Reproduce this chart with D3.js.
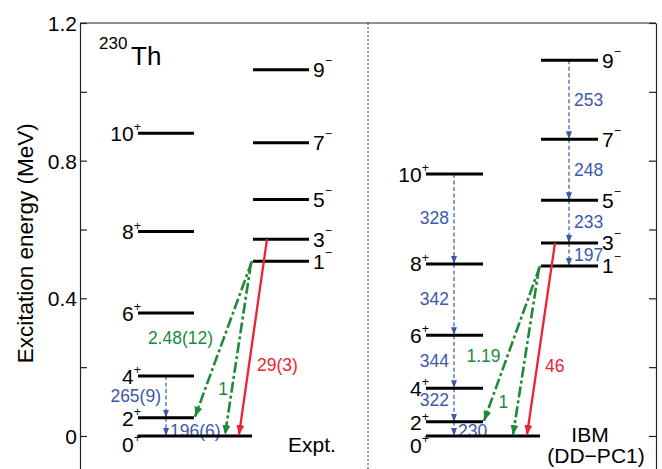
<!DOCTYPE html>
<html>
<head>
<meta charset="utf-8">
<script src="https://cdn.jsdelivr.net/npm/d3@7"></script>
<style>
  body { margin: 0; background: #fff; }
  text { font-family: "Liberation Sans", Arial, Helvetica, sans-serif; }
</style>
</head>
<body>
<svg id="chart" width="662" height="469"></svg>
<script>
// Level energies (MeV), 230Th
const gsbSpins = ["0", "2", "4", "6", "8", "10"];
const negSpins = ["1", "3", "5", "7", "9"];
const exptGsbE = [0, 0.053, 0.174, 0.357, 0.594, 0.880];
const exptNegE = [0.508, 0.572, 0.687, 0.852, 1.064];
const ibmGsbE = [0, 0.041, 0.139, 0.293, 0.500, 0.761];
const ibmNegE = [0.494, 0.561, 0.685, 0.862, 1.092];

// B(E2) labels (W.u.), entry i = transition from level i+1 down to level i
const exptGsbBE2 = ["196(6)", "265(9)"];
const ibmGsbBE2 = ["230", "322", "344", "342", "328"];
const ibmNegBE2 = ["197", "233", "248", "253"];

// E1 ratios (1- -> 2+, 1- -> 0+) and E3 (3- -> 0+)
const exptE1 = ["2.48(12)", "1"];
const exptE3 = "29(3)";
const ibmE1 = ["1.19", "1"];
const ibmE3 = "46";

// axis
const yTicks = [-0.2, 0, 0.2, 0.4, 0.6, 0.8, 1.0, 1.2];
const yTickLabels = ["", "0", "", "0.4", "", "0.8", "", "1.2"];

const svg = d3.select("#chart");
const plotLeft = 80, plotRight = 656, plotTop = 23;

const y = d3.scaleLinear().domain([-0.1, 1.2]).range([470.4, plotTop]);

const BLUE = "#3b58aa", GREEN = "#1c8a3a", RED = "#ec2330";

// arrow heads
const defs = svg.append("defs");
[["blue", BLUE, 8, 6], ["green", GREEN, 10, 8], ["red", RED, 10, 8]].forEach(([id, c, len, w]) => {
  defs.append("marker")
    .attr("id", "arr-" + id)
    .attr("markerUnits", "userSpaceOnUse")
    .attr("viewBox", `0 ${-w / 2} ${len} ${w}`)
    .attr("refX", len).attr("refY", 0)
    .attr("markerWidth", len).attr("markerHeight", w)
    .attr("orient", "auto")
    .append("path")
    .attr("d", `M0,${-w / 2}L${len},0L0,${w / 2}Z`)
    .attr("fill", c);
});

// frame and axes
svg.append("line")
  .attr("x1", plotLeft).attr("x2", plotRight).attr("y1", plotTop).attr("y2", plotTop)
  .attr("stroke", "#222").attr("stroke-width", 1.2);

const axL = svg.append("g")
  .attr("transform", `translate(${plotLeft},0)`)
  .call(d3.axisLeft(y).tickValues(yTicks).tickSizeInner(-7).tickSizeOuter(0).tickPadding(3)
    .tickFormat((d, i) => yTickLabels[i]));
const axR = svg.append("g")
  .attr("transform", `translate(${plotRight},0)`)
  .call(d3.axisRight(y).tickValues(yTicks).tickSizeInner(-7).tickSizeOuter(0).tickFormat(""));
[axL, axR].forEach(a => {
  a.selectAll("path, line").attr("stroke", "#222").attr("stroke-width", 1.2);
});
axL.selectAll("text").style("font-size", "21px").attr("fill", "#000").attr("dy", "0.36em");

svg.append("text")
  .attr("transform", `translate(33,${(y(0.215) + y(0.905)) / 2}) rotate(-90)`)
  .attr("text-anchor", "middle")
  .style("font-size", "22.5px")
  .text("Excitation energy (MeV)");

// separator between panels
svg.append("line")
  .attr("x1", 368).attr("x2", 368).attr("y1", plotTop).attr("y2", 469)
  .attr("stroke", "#333").attr("stroke-width", 1).attr("stroke-dasharray", "2,2");

// nucleus label
svg.append("text").attr("x", 99).attr("y", 49).style("font-size", "17px").text("230");
svg.append("text").attr("x", 131).attr("y", 65).style("font-size", "26px").text("Th");

// panel layout; gsbDy = baseline offset of each ground-band spin label
const panels = [
  { gsbE: exptGsbE, negE: exptNegE, gsbBE2: exptGsbBE2, negBE2: [], e1: exptE1, e3: exptE3,
    gx: [138, 194], zeroEnd: 252, nx: [253, 309], bx: 166, nbx: null,
    gsbDy: [16, 8, 7.5, 7.5, 7.5, 7.5], lift: 1,
    e1t: [0.49, 0.73], e1dx: [11, 4] },
  { gsbE: ibmGsbE, negE: ibmNegE, gsbBE2: ibmGsbBE2, negBE2: ibmNegBE2, e1: ibmE1, e3: ibmE3,
    gx: [426, 483], zeroEnd: 540, nx: [541, 598], bx: 454, nbx: 569,
    gsbDy: [17, 8.5, 7.5, 7.5, 7.5, 7.5], lift: 5,
    e1t: [0.58, 0.80], e1dx: [7, 10] }
];

function spinLabel(g, x, yb, spin, sign, anchor) {
  const t = g.append("text").attr("x", x).attr("y", yb)
    .attr("text-anchor", anchor).style("font-size", "21px");
  t.append("tspan").text(spin);
  t.append("tspan").attr("dy", sign === "+" ? -9.5 : -12).style("font-size", "12.5px").text(sign === "+" ? "+" : "\u2212");
}

function arrow(g, x1, y1, x2, y2, color, id, width, dash) {
  g.append("line")
    .attr("x1", x1).attr("y1", y1).attr("x2", x2).attr("y2", y2)
    .attr("stroke", color).attr("stroke-width", width)
    .attr("stroke-dasharray", dash)
    .attr("marker-end", `url(#arr-${id})`);
}

function label(g, x, yc, txt, color, anchor, size) {
  g.append("text").attr("x", x).attr("y", yc + 0.36 * size)
    .attr("text-anchor", anchor).attr("fill", color)
    .style("font-size", size + "px").text(txt);
}

panels.forEach(p => {
  const g = svg.append("g");

  // blue B(E2) arrows, ground band
  p.gsbBE2.forEach((txt, i) => {
    const y0 = y(p.gsbE[i + 1]), y1 = y(p.gsbE[i]);
    arrow(g, p.bx, y0, p.bx, y1, BLUE, "blue", 1.2, "4,2.5");
    if (i === 0) {
      g.append("text").attr("x", p.bx + 4).attr("y", y1 + 1)
        .attr("fill", BLUE).style("font-size", "17.5px").text(txt);
    } else {
      label(g, p.bx - 5, (y0 + y1) / 2 - (i === 1 ? p.lift : 1), txt, BLUE, "end", 17.5);
    }
  });
  // blue B(E2) arrows, negative-parity band
  p.negBE2.forEach((txt, i) => {
    const y0 = y(p.negE[i + 1]), y1 = y(p.negE[i]);
    arrow(g, p.nbx, y0, p.nbx, y1, BLUE, "blue", 1.2, "4,2.5");
    label(g, p.nbx + 5, (y0 + y1) / 2, txt, BLUE, "start", 17.5);
  });

  // levels
  g.selectAll(".gsb").data(p.gsbE).join("line")
    .attr("x1", p.gx[0]).attr("x2", (d, i) => i === 0 ? p.zeroEnd : p.gx[1])
    .attr("y1", d => y(d)).attr("y2", d => y(d))
    .attr("stroke", "#000").attr("stroke-width", 3);
  g.selectAll(".neg").data(p.negE).join("line")
    .attr("x1", p.nx[0]).attr("x2", p.nx[1])
    .attr("y1", d => y(d)).attr("y2", d => y(d))
    .attr("stroke", "#000").attr("stroke-width", 3);

  p.gsbE.forEach((e, i) => {
    spinLabel(g, p.gx[0] + 3, y(e) + p.gsbDy[i], gsbSpins[i], "+", "end");
  });
  p.negE.forEach((e, i) => {
    spinLabel(g, p.nx[1] + 4, y(e) + 7.5, negSpins[i], "-", "start");
  });

  // E1 arrows (dash-dot green) and E3 arrow (red)
  const yN = y(p.negE[0]), yZ = y(0);
  const a = [p.nx[0] - 1, yN, p.gx[1] + 1, y(p.gsbE[1]) - 1];
  const b = [p.nx[0] - 2, yN + 2, p.nx[0] - 28, yZ - 1];
  const r = [p.nx[0] + 14, y(p.negE[1]), p.nx[0] - 14, yZ - 1];
  arrow(g, ...a, GREEN, "green", 2.6, "11,3,3,3");
  arrow(g, ...b, GREEN, "green", 2.6, "11,3,3,3");
  arrow(g, ...r, RED, "red", 2.3, null);

  [a, b].forEach((s, k) => {
    const t = p.e1t[k];
    const px = s[0] + (s[2] - s[0]) * t, py = s[1] + (s[3] - s[1]) * t;
    label(g, px - p.e1dx[k], py, p.e1[k], GREEN, "end", 17.5);
  });
  const tr = 0.64;
  label(g, r[0] + (r[2] - r[0]) * tr + 8, r[1] + (r[3] - r[1]) * tr, p.e3, RED, "start", 17.5);
});

// panel names
svg.append("text").attr("x", 288).attr("y", 452).style("font-size", "21px").text("Expt.");
svg.append("text").attr("x", 590).attr("y", 442).attr("text-anchor", "middle").style("font-size", "21px").text("IBM");
svg.append("text").attr("x", 596).attr("y", 463).attr("text-anchor", "middle").style("font-size", "21px").text("(DD\u2212PC1)");
</script>
</body>
</html>
